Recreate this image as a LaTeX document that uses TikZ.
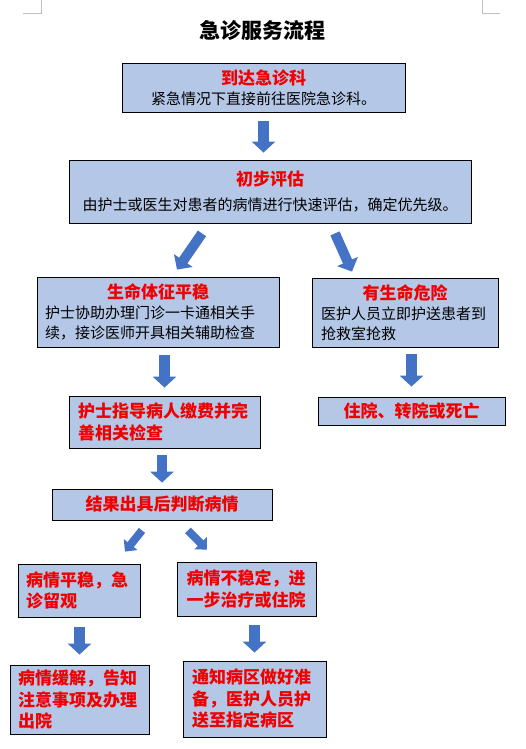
\documentclass[tikz,border=0pt]{standalone}
\usepackage{fontspec}
\setmainfont{Noto Sans CJK SC}
\usetikzlibrary{arrows.meta}
\definecolor{boxblue}{HTML}{B4C7E7}
\definecolor{arrowblue}{HTML}{4472C4}
\definecolor{headred}{HTML}{F00000}
\definecolor{markgray}{HTML}{BFBFBF}
\newcommand{\rt}[1]{{\fontsize{17}{20}\selectfont\bfseries\color{headred}#1}}
\tikzset{
  box/.style={draw,fill=boxblue,line width=0.8pt,inner sep=0pt,font=\fontsize{15}{20}\selectfont},
  rbox/.style={box,font=\fontsize{17}{21.5}\selectfont\bfseries,text=headred},
  barrow/.style={line width=10.5pt,color=arrowblue,-{Triangle[width=23pt,length=11pt]}},
  dbarrow/.style={line width=10pt,color=arrowblue,-{Triangle[width=22pt,length=11pt]}},
  sbarrow/.style={line width=8pt,color=arrowblue,-{Triangle[width=17pt,length=9pt]}},
}

\begin{document}
\begin{tikzpicture}[x=1pt,y=-1pt]
    \useasboundingbox (0,0) rectangle (526,749);
    %page marks
    \draw[markgray,line width=0.6pt] (23,13) -- (41,13) -- (41,0);
    \draw[markgray,line width=0.6pt] (482,0) -- (482,13) -- (500,13);

    %title
    \node (title) at (262,30) [font=\fontsize{21}{24}\selectfont\bfseries]{急诊服务流程};

    %boxes
    \node (arrive) at (263.5,87.5) [box,align=center,minimum width=283pt,minimum height=49pt]{\rt{到达急诊科}\\紧急情况下直接前往医院急诊科。};
    \node (assess) at (270,191.5) [box,align=center,minimum width=402pt,minimum height=63pt]{\rt{初步评估}\\[5pt]由护士或医生对患者的病情进行快速评估，确定优先级。};
    \node (stable) at (158,312) [box,align=left,text width=226pt,minimum width=242pt,minimum height=70pt]{\makebox[\linewidth]{\rt{生命体征平稳}}\\护士协助办理门诊一卡通相关手\\续，接诊医师开具相关辅助检查};
    \node (danger) at (405,312.5) [box,align=left,text width=168pt,minimum width=186pt,minimum height=69pt]{\makebox[\linewidth]{\rt{有生命危险}}\\医护人员立即护送患者到\\抢救室抢救};
    \node (guide) at (164.5,422) [rbox,align=left,text width=173pt,minimum width=191pt,minimum height=52pt]{护士指导病人缴费并完\\善相关检查};
    \node (outcome) at (411.5,411) [rbox,align=center,minimum width=187pt,minimum height=28pt]{住院、转院或死亡};
    \node (result) at (162,504.5) [rbox,align=center,minimum width=220pt,minimum height=31pt]{结果出具后判断病情};
    \node (observe) at (79,590.5) [rbox,align=left,text width=106pt,minimum width=122pt,minimum height=53pt]{病情平稳，急\\诊留观};
    \node (unstable) at (246.5,589) [rbox,align=left,text width=120pt,minimum width=139pt,minimum height=54pt]{病情不稳定，进\\一步治疗或住院};
    \node (discharge) at (79.5,699.5) [rbox,align=left,text width=123pt,minimum width=139pt,minimum height=69pt]{病情缓解，告知\\注意事项及办理\\出院};
    \node (ward) at (254.5,699) [rbox,align=left,text width=125pt,minimum width=143pt,minimum height=76pt]{通知病区做好准\\备，医护人员护\\送至指定病区};

    %down arrows
    \draw [barrow,shorten <=9pt,shorten >=7pt] (arrive.south) -- (arrive.south |- assess.north);
    \draw [barrow,shorten <=8pt,shorten >=8pt] (stable.south -| guide.north) -- (guide.north);
    \draw [barrow,shorten <=7pt,shorten >=10pt] (danger.south -| outcome.north) -- (outcome.north);
    \draw [barrow,shorten <=7pt,shorten >=6pt] (guide.south -| result.north) -- (result.north);
    \draw [barrow,shorten <=10pt,shorten >=10pt] (observe.south -| discharge.north) -- (discharge.north);
    \draw [barrow,shorten <=9pt,shorten >=8pt] (unstable.south -| ward.north) -- (ward.north);

    %split arrows
    \draw [dbarrow] ([shift={(-68pt,-10pt)}]assess.south) -- ([shift={(19pt,7pt)}]stable.north);
    \draw [dbarrow] ([shift={(65pt,-10pt)}]assess.south) -- ([shift={(-53pt,6pt)}]danger.north);
    \draw [sbarrow] ([shift={(-20pt,-10pt)}]result.south) -- ([shift={(46pt,12pt)}]observe.north);
    \draw [sbarrow] ([shift={(26pt,-10pt)}]result.south) -- ([shift={(-39.5pt,12pt)}]unstable.north);
\end{tikzpicture}
\end{document}
